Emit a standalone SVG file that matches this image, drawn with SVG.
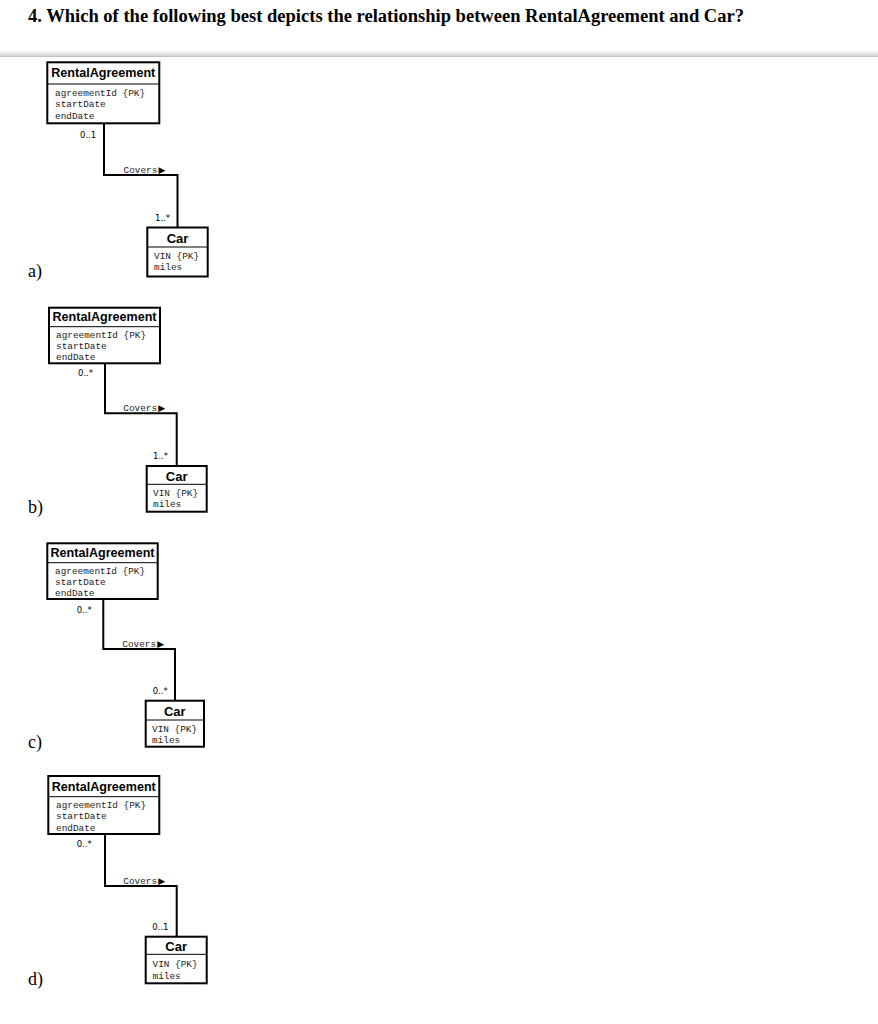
<svg xmlns="http://www.w3.org/2000/svg" width="878" height="1024" viewBox="0 0 878 1024">
<defs>
<linearGradient id="sep" x1="0" y1="0" x2="0" y2="1">
<stop offset="0" stop-color="#ffffff"/>
<stop offset="1" stop-color="#d4d4d4"/>
</linearGradient>
<style>
.title{font-family:"Liberation Serif",serif;font-weight:bold;font-size:18.5px;fill:#000}
.opt{font-family:"Liberation Serif",serif;font-size:18px;fill:#000}
.box{fill:#fff;stroke:#000;stroke-width:2}
.div{stroke:#000;stroke-width:1}
.cname{font-family:"Liberation Sans",sans-serif;font-weight:bold;font-size:13px;fill:#000;text-anchor:middle}
.attr{font-family:"Liberation Mono",monospace;font-size:9.4px;fill:#222}
.mult{font-family:"DejaVu Sans",sans-serif;font-size:8.5px;fill:#000}
.lbl{font-family:"Liberation Mono",monospace;font-size:9.4px;fill:#222}
.arr{font-family:"DejaVu Sans",sans-serif;font-size:9px;fill:#000}
.conn{fill:none;stroke:#000;stroke-width:2}
</style>
</defs>
<rect x="0" y="0" width="878" height="1024" fill="#fff"/>
<text class="title" x="28" y="22.3" textLength="716" lengthAdjust="spacingAndGlyphs">4. Which of the following best depicts the relationship between RentalAgreement and Car?</text>
<rect x="0" y="50" width="878" height="6" fill="url(#sep)"/>
<line x1="0" y1="56.5" x2="878" y2="56.5" stroke="#c4c4c4" stroke-width="1"/>

<g id="connectors">
<polyline class="conn" points="104,123.3 104,175 177.5,175 177.5,227.5"/>
<polyline class="conn" points="105,363.3 105,413.3 176.7,413.3 176.7,466"/>
<polyline class="conn" points="103.3,599 103.3,649 175,649 175,700.7"/>
<polyline class="conn" points="105,834 105,886 176.7,886 176.7,936.7"/>
</g>

<g id="option-a">
<text class="opt" x="28" y="277">a)</text>
<g id="a-rental">
<rect class="box" x="47.3" y="62.3" width="112" height="61"/>
<line class="div" x1="47.3" y1="84" x2="159.3" y2="84"/>
<text class="cname" x="103.3" y="77.3" textLength="104" lengthAdjust="spacingAndGlyphs">RentalAgreement</text>
<text class="attr" x="55" y="95.5">agreementId {PK}</text>
<text class="attr" x="55" y="107">startDate</text>
<text class="attr" x="55" y="118.5">endDate</text>
</g>
<g id="a-car">
<rect class="box" x="147.3" y="227.5" width="60.4" height="49"/>
<line class="div" x1="147.3" y1="247" x2="207.7" y2="247"/>
<text class="cname" x="177.5" y="242.7">Car</text>
<text class="attr" x="154" y="259">VIN {PK}</text>
<text class="attr" x="154" y="270">miles</text>
</g>
<text class="mult" x="80" y="138">0..1</text>
<text class="lbl" x="123.5" y="172.7">Covers</text>
<text class="arr" x="158.5" y="172.7">▶</text>
<text class="mult" x="155" y="221">1..*</text>
</g>

<g id="option-b">
<text class="opt" x="28" y="513">b)</text>
<g id="b-rental">
<rect class="box" x="49" y="307.7" width="111" height="55.6"/>
<line class="div" x1="49" y1="326.7" x2="160" y2="326.7"/>
<text class="cname" x="104.5" y="321" textLength="104" lengthAdjust="spacingAndGlyphs">RentalAgreement</text>
<text class="attr" x="56" y="337.5">agreementId {PK}</text>
<text class="attr" x="56" y="349">startDate</text>
<text class="attr" x="56" y="360">endDate</text>
</g>
<g id="b-car">
<rect class="box" x="146.7" y="466" width="60" height="45.7"/>
<line class="div" x1="146.7" y1="484.3" x2="206.7" y2="484.3"/>
<text class="cname" x="176.7" y="480.5">Car</text>
<text class="attr" x="153" y="496">VIN {PK}</text>
<text class="attr" x="153" y="507">miles</text>
</g>
<text class="mult" x="78" y="376">0..*</text>
<text class="lbl" x="123.3" y="411">Covers</text>
<text class="arr" x="158.3" y="411">▶</text>
<text class="mult" x="153" y="459">1..*</text>
</g>

<g id="option-c">
<text class="opt" x="28" y="748">c)</text>
<g id="c-rental">
<rect class="box" x="47.3" y="543.3" width="110.4" height="55.7"/>
<line class="div" x1="47.3" y1="562.7" x2="157.7" y2="562.7"/>
<text class="cname" x="102.5" y="557" textLength="104" lengthAdjust="spacingAndGlyphs">RentalAgreement</text>
<text class="attr" x="55" y="573.5">agreementId {PK}</text>
<text class="attr" x="55" y="585">startDate</text>
<text class="attr" x="55" y="596">endDate</text>
</g>
<g id="c-car">
<rect class="box" x="145.7" y="700.7" width="58.3" height="46"/>
<line class="div" x1="145.7" y1="720" x2="204" y2="720"/>
<text class="cname" x="174.8" y="715.5">Car</text>
<text class="attr" x="152" y="731.5">VIN {PK}</text>
<text class="attr" x="152" y="742.5">miles</text>
</g>
<text class="mult" x="76.7" y="612.5">0..*</text>
<text class="lbl" x="122.3" y="646.7">Covers</text>
<text class="arr" x="157.3" y="646.7">▶</text>
<text class="mult" x="152.7" y="693.5">0..*</text>
</g>

<g id="option-d">
<text class="opt" x="28" y="985">d)</text>
<g id="d-rental">
<rect class="box" x="48.3" y="776" width="111" height="58"/>
<line class="div" x1="48.3" y1="796.7" x2="159.3" y2="796.7"/>
<text class="cname" x="103.8" y="791" textLength="104" lengthAdjust="spacingAndGlyphs">RentalAgreement</text>
<text class="attr" x="56" y="807.5">agreementId {PK}</text>
<text class="attr" x="56" y="819">startDate</text>
<text class="attr" x="56" y="830.5">endDate</text>
</g>
<g id="d-car">
<rect class="box" x="145.7" y="936.7" width="61" height="46.6"/>
<line class="div" x1="145.7" y1="954.3" x2="206.7" y2="954.3"/>
<text class="cname" x="176.2" y="951">Car</text>
<text class="attr" x="152.5" y="967">VIN {PK}</text>
<text class="attr" x="152.5" y="978.5">miles</text>
</g>
<text class="mult" x="76.7" y="847">0..*</text>
<text class="lbl" x="123.3" y="883.7">Covers</text>
<text class="arr" x="158.3" y="883.7">▶</text>
<text class="mult" x="152.3" y="929.5">0..1</text>
</g>
</svg>
